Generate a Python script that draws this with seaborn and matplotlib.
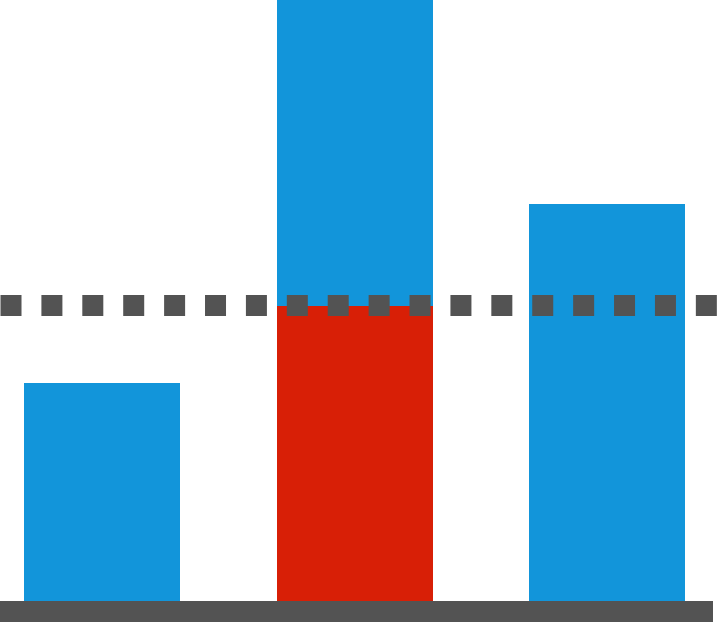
import matplotlib
matplotlib.use("Agg")
import matplotlib.pyplot as plt
import seaborn as sns
import pandas as pd

categories = ["A", "B", "C"]
totals = [36.3, 100.0, 66.0]
highlight = [0.0, 49.1, 0.0]
threshold = 49.2

BLUE = "#1295DA"
RED = "#D81F06"
GRAY = "#535353"

sns.set_theme(style="white")
plt.rcParams["lines.scale_dashes"] = False

df = pd.DataFrame({"cat": categories, "total": totals, "hl": highlight})

fig = plt.figure(figsize=(7.17, 6.22), dpi=100)
ax = fig.add_axes([0, 0, 1, 1])

sns.barplot(data=df, x="cat", y="total", color=BLUE, saturation=1,
            width=0.617, linewidth=0, ax=ax, zorder=2)
sns.barplot(data=df, x="cat", y="hl", color=RED, saturation=1,
            width=0.617, linewidth=0, ax=ax, zorder=3)

# baseline band
ax.axhspan(-10, 0, xmin=0, xmax=713 / 717, color=GRAY, lw=0, zorder=4)

# dotted threshold line
ax.axhline(threshold, color=GRAY, linewidth=15.12, dashes=(15.12, 14.33),
           dash_capstyle="butt", solid_capstyle="butt", zorder=5)

ax.set_xlim(-0.4048, 2.4348)
ax.set_ylim(-3.44, 100)
ax.axis("off")

fig.savefig("out.png", dpi=100)
